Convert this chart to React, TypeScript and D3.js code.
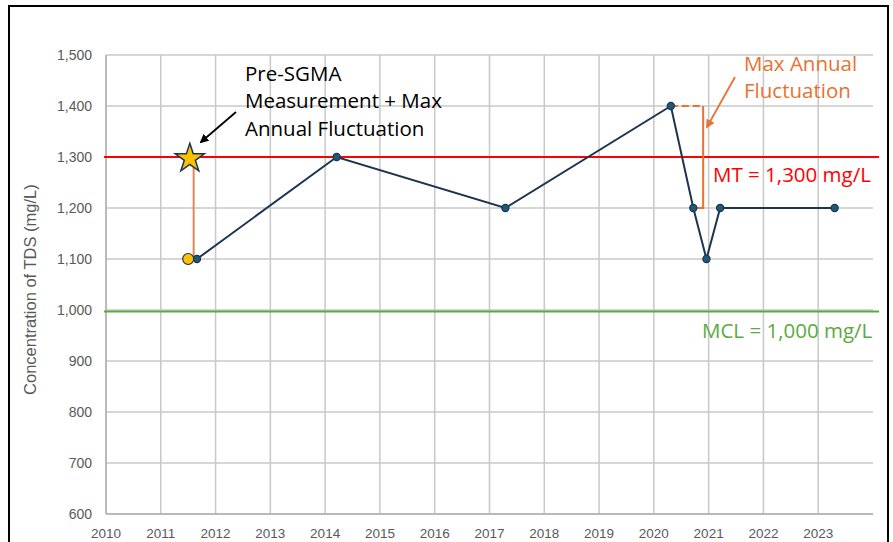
import * as d3 from "d3";

// measured TDS samples (decimal year, mg/L)
const sampleDates = [2011.66, 2014.21, 2017.29, 2020.31, 2020.72, 2020.96, 2021.21, 2023.3];
const sampleValues = [1100, 1300, 1200, 1400, 1200, 1100, 1200, 1200];

const preSgmaDate = 2011.5;
const preSgmaValue = 1100;
const starDate = 2011.53;
const starValue = 1295;
const fluctLineDate = 2011.6;

const mtValue = 1300;
const mclValue = 1000;

const bracketStart = 2020.31;
const bracketEnd = 2020.9;
const bracketLow = 1200;
const bracketHigh = 1400;
const bracketFoot = 2020.72;

const yearTicks = d3.range(2010, 2024);
const valueTicks = d3.range(600, 1501, 100);

const W = 893;
const H = 542;

export default function App() {
  const x = d3.scaleLinear().domain([2010, 2024]).range([106, 873]);
  const y = d3.scaleLinear().domain([600, 1500]).range([514, 55]);

  const line = d3
    .line<number>()
    .x((d, i) => x(sampleDates[i]))
    .y((d) => y(d));

  const star = d3.symbol().type(d3.symbolStar).size(260)();
  const fmt = d3.format(",");

  const orange = "#E97132";
  const navy = "#1B3550";
  const gray = "#595959";
  const annFont = "Open Sans, Noto Sans, sans-serif";
  const axFont = "Liberation Sans, Arial, sans-serif";

  return (
    <svg width={W} height={H} style={{ position: "absolute", left: 0, top: 0 }}>
      <rect x={0} y={0} width={W} height={H} fill="#fff" />
      <rect x={9} y={6} width={879} height={H} fill="none" stroke="#000" strokeWidth={2} />

      {/* grid */}
      {valueTicks.map((v) => (
        <line key={"h" + v} x1={x(2010)} x2={x(2024)} y1={y(v)} y2={y(v)} stroke="#c8c8c8" strokeWidth={1.5} />
      ))}
      {yearTicks.map((t) => (
        <line key={"v" + t} x1={x(t)} x2={x(t)} y1={y(1500)} y2={y(600)} stroke="#c8c8c8" strokeWidth={1.5} />
      ))}
      <line x1={x(2010)} x2={x(2010)} y1={y(1500)} y2={y(600)} stroke="#b0b0b0" strokeWidth={1.5} />
      <line x1={x(2010)} x2={x(2024)} y1={y(600)} y2={y(600)} stroke="#b0b0b0" strokeWidth={1.5} />

      {/* tick labels */}
      {valueTicks.map((v) => (
        <text key={"yl" + v} x={92} y={y(v)} dy="0.35em" textAnchor="end" fontFamily={axFont} fontSize={14} fill={gray}>
          {fmt(v)}
        </text>
      ))}
      {yearTicks.map((t) => (
        <text key={"xl" + t} x={x(t)} y={538} textAnchor="middle" fontFamily={axFont} fontSize={13.5} fill={gray}>
          {t}
        </text>
      ))}
      <text transform={`translate(36,${y(1040)}) rotate(-90)`} textAnchor="middle" fontFamily={axFont} fontSize={16.5} fill={gray}>
        Concentration of TDS (mg/L)
      </text>

      {/* thresholds */}
      <line x1={104} x2={879} y1={y(mclValue) + 1.5} y2={y(mclValue) + 1.5} stroke="#5BAA3F" strokeWidth={2} />
      <line x1={104} x2={879} y1={y(mtValue)} y2={y(mtValue)} stroke="#FF0000" strokeWidth={2.2} />

      {/* pre-SGMA fluctuation */}
      <line x1={x(fluctLineDate)} x2={x(fluctLineDate)} y1={y(starValue)} y2={y(preSgmaValue)} stroke="#D98B5C" strokeWidth={2} />

      {/* max annual fluctuation bracket */}
      <line x1={x(bracketStart)} x2={x(bracketEnd)} y1={y(bracketHigh)} y2={y(bracketHigh)} stroke={orange} strokeWidth={2} strokeDasharray="7,4" />
      <path
        d={`M${x(bracketEnd)},${y(bracketHigh)} V${y(bracketLow)} H${x(bracketFoot)}`}
        fill="none"
        stroke={orange}
        strokeWidth={2}
      />

      {/* series */}
      <path d={line(sampleValues) ?? ""} fill="none" stroke={navy} strokeWidth={2} />
      {sampleValues.map((v, i) => (
        <circle key={"p" + i} cx={x(sampleDates[i])} cy={y(v)} r={3.6} fill="#1E5A78" stroke={navy} strokeWidth={1.2} />
      ))}
      <circle cx={x(preSgmaDate)} cy={y(preSgmaValue)} r={5.5} fill="#FFC000" stroke={navy} strokeWidth={1.2} />
      <path d={star ?? ""} transform={`translate(${x(starDate)},${y(starValue) - 1})`} fill="#FFC000" stroke={navy} strokeWidth={1.5} />

      {/* annotations */}
      <defs>
        <marker id="ah" viewBox="0 0 10 10" refX={8} refY={5} markerWidth={5} markerHeight={5} orient="auto">
          <path d="M0,0 L10,5 L0,10 z" fill="#000" />
        </marker>
        <marker id="ao" viewBox="0 0 10 10" refX={8} refY={5} markerWidth={5} markerHeight={5} orient="auto">
          <path d="M0,0 L10,5 L0,10 z" fill={orange} />
        </marker>
      </defs>
      <line x1={236} y1={112} x2={201} y2={142} stroke="#000" strokeWidth={1.8} markerEnd="url(#ah)" />
      <g fontFamily={annFont} fontSize={20.5} fill="#000">
        <text x={245} y={81}>Pre-SGMA</text>
        <text x={245} y={108}>Measurement + Max</text>
        <text x={245} y={136}>Annual Fluctuation</text>
      </g>
      <line x1={735} y1={77} x2={707} y2={127} stroke={orange} strokeWidth={1.8} markerEnd="url(#ao)" />
      <g fontFamily={annFont} fontSize={20.5} fill={orange}>
        <text x={744} y={71}>Max Annual</text>
        <text x={744} y={98}>Fluctuation</text>
      </g>
      <text x={713} y={182} fontFamily={annFont} fontSize={20.5} fill="#FF0000">
        MT = 1,300 mg/L
      </text>
      <text x={702} y={338} fontFamily={annFont} fontSize={20.5} fill="#5BAA3F">
        MCL = 1,000 mg/L
      </text>
    </svg>
  );
}
